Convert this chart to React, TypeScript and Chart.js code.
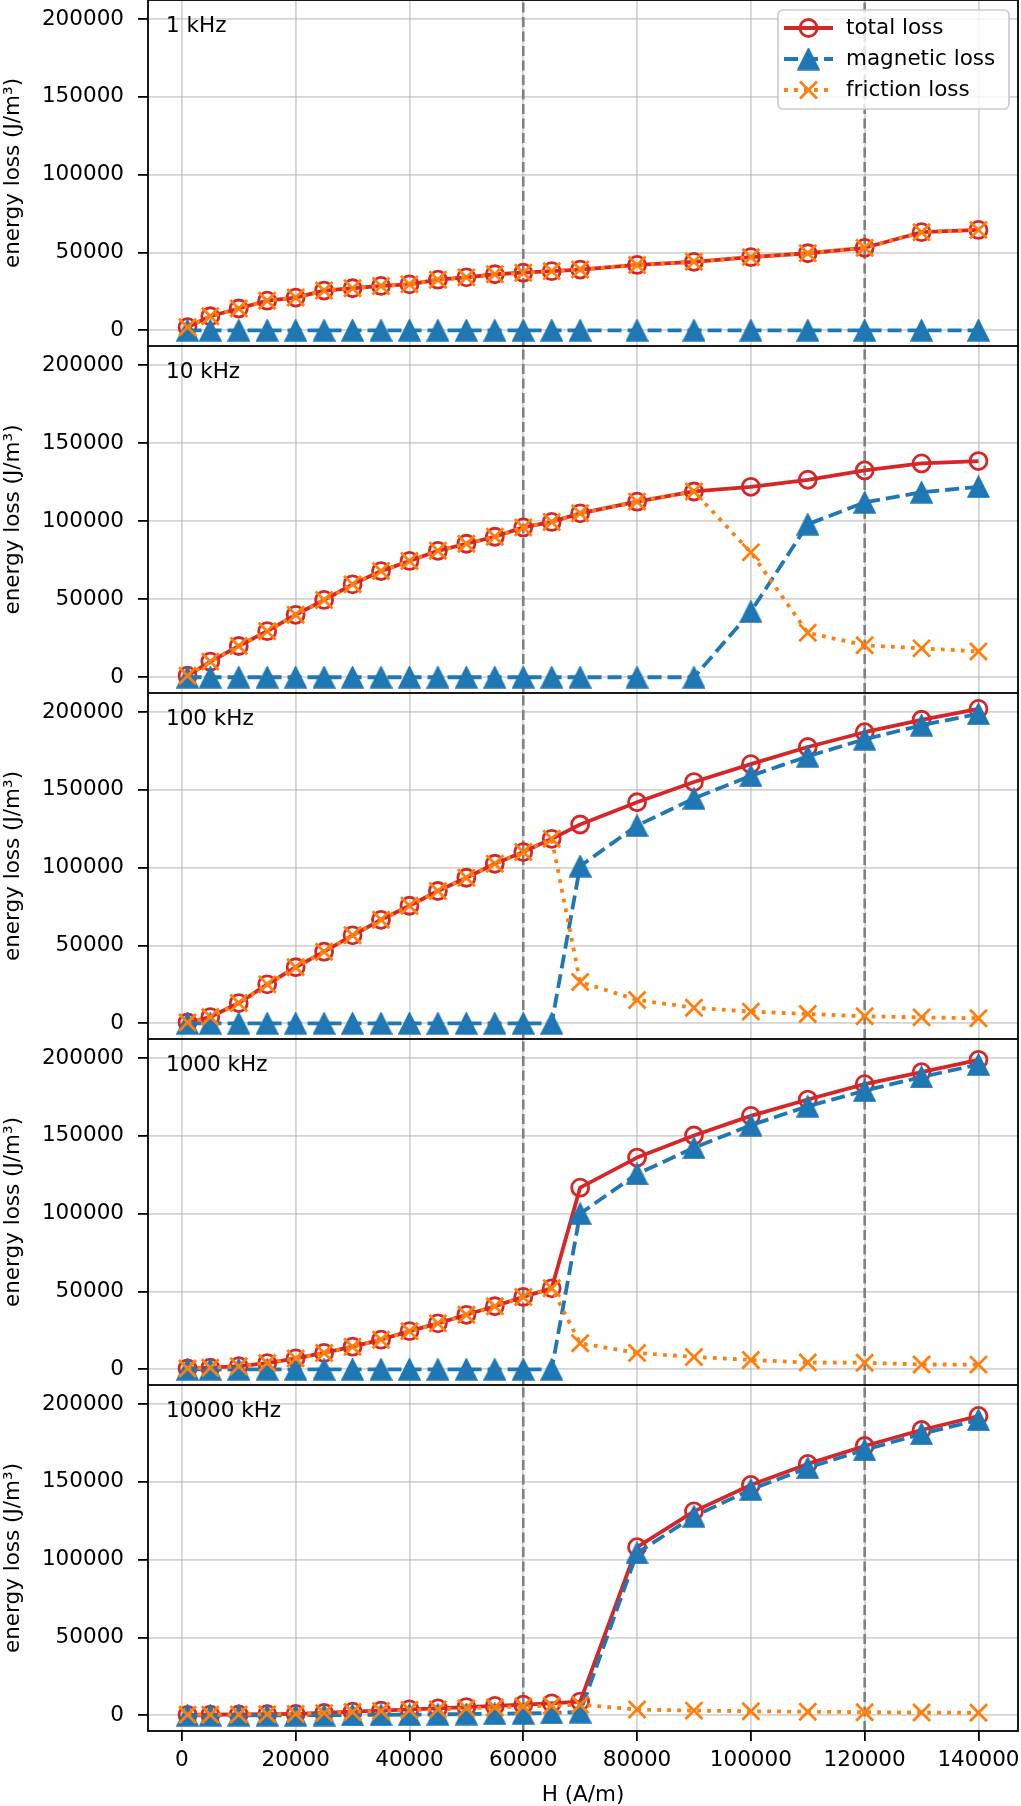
import { useEffect, useRef } from "react";
import { Chart, registerables } from "chart.js";
import { drawPoint } from "chart.js/helpers";

Chart.register(...registerables);

// field strength H (A/m), shared by all panels
const H_FIELD = [
  1000, 5000, 10000, 15000, 20000, 25000, 30000, 35000, 40000, 45000, 50000,
  55000, 60000, 65000, 70000, 80000, 90000, 100000, 110000, 120000, 130000, 140000,
];

const FREQ_LABELS = ["1 kHz", "10 kHz", "100 kHz", "1000 kHz", "10000 kHz"];

// 1 kHz
const TOTAL_1K = [2000, 9000, 14000, 19000, 21000, 25500, 27000, 28500, 29500, 32500, 34000, 36000, 37000, 38000, 39000, 42000, 44000, 47000, 49500, 53000, 63000, 64500];
const MAG_1K = [0, 0, 0, 0, 0, 0, 0, 0, 0, 0, 0, 0, 0, 0, 0, 0, 0, 0, 0, 0, 0, 0];
const FRIC_1K = [2000, 9000, 14000, 19000, 21000, 25500, 27000, 28500, 29500, 32500, 34000, 36000, 37000, 38000, 39000, 42000, 44000, 47000, 49500, 53000, 63000, 64500];

// 10 kHz
const TOTAL_10K = [1000, 10000, 20000, 29500, 40000, 49500, 59500, 68000, 74500, 81000, 85500, 90000, 96000, 99500, 105000, 112500, 119000, 122000, 126500, 132500, 137000, 138500];
const MAG_10K = [0, 0, 0, 0, 0, 0, 0, 0, 0, 0, 0, 0, 0, 0, 0, 0, 0, 42000, 98000, 112000, 118500, 122000];
const FRIC_10K = [1000, 10000, 20000, 29500, 40000, 49500, 59500, 68000, 74500, 81000, 85500, 90000, 96000, 99500, 105000, 112500, 119000, 80000, 28500, 20500, 18500, 16500];

// 100 kHz
const TOTAL_100K = [500, 4000, 13000, 25000, 36000, 46000, 56500, 66500, 75500, 85000, 93500, 102500, 110000, 118500, 127700, 142000, 155000, 166500, 177500, 187000, 195000, 202000];
const MAG_100K = [0, 0, 0, 0, 0, 0, 0, 0, 0, 0, 0, 0, 0, 0, 101000, 127000, 144500, 159000, 171500, 182500, 191500, 198800];
const FRIC_100K = [500, 4000, 13000, 25000, 36000, 46000, 56500, 66500, 75500, 85000, 93500, 102500, 110000, 118500, 26500, 15000, 10000, 7500, 6000, 4500, 3800, 3200];

// 1000 kHz
const TOTAL_1000K = [500, 1000, 2000, 4000, 7000, 10500, 14500, 19000, 24500, 29500, 35000, 40500, 46500, 52000, 116700, 136000, 150200, 162800, 173300, 183200, 190900, 198800];
const MAG_1000K = [0, 0, 0, 0, 0, 0, 0, 0, 0, 0, 0, 0, 0, 0, 100000, 125500, 142300, 156800, 169000, 179000, 187800, 195800];
const FRIC_1000K = [500, 1000, 2000, 4000, 7000, 10500, 14500, 19000, 24500, 29500, 35000, 40500, 46500, 52000, 16700, 10500, 7900, 6000, 4300, 4200, 3100, 3000];

// 10000 kHz
const TOTAL_10000K = [300, 400, 500, 700, 900, 1500, 2300, 3000, 3800, 4400, 5300, 6000, 6800, 7700, 8800, 108000, 131000, 148000, 161500, 173000, 183300, 192300];
const MAG_10000K = [0, 0, 0, 0, 0, 100, 200, 300, 400, 600, 800, 1000, 1200, 1500, 2000, 104300, 127800, 145000, 159000, 170500, 180800, 189800];
const FRIC_10000K = [300, 400, 500, 700, 900, 1400, 2100, 2700, 3400, 3800, 4500, 5000, 5600, 6200, 6800, 3700, 3000, 2600, 2300, 2000, 1800, 1600];

const VLINES_H = [60000, 120000];
const X_TICKS = [0, 20000, 40000, 60000, 80000, 100000, 120000, 140000];
const Y_TICKS = [0, 50000, 100000, 150000, 200000];

const PANELS = [
  { label: FREQ_LABELS[0], total: TOTAL_1K, mag: MAG_1K, fric: FRIC_1K },
  { label: FREQ_LABELS[1], total: TOTAL_10K, mag: MAG_10K, fric: FRIC_10K },
  { label: FREQ_LABELS[2], total: TOTAL_100K, mag: MAG_100K, fric: FRIC_100K },
  { label: FREQ_LABELS[3], total: TOTAL_1000K, mag: MAG_1000K, fric: FRIC_1000K },
  { label: FREQ_LABELS[4], total: TOTAL_10000K, mag: MAG_10000K, fric: FRIC_10000K },
];

const X_MIN = -5950;
const X_MAX = 146950;
const Y_MIN = -10100;
const Y_MAX = 212200;

const PAGE_W = 1021;
const AXIS_LEFT = 148;
const RIGHT_PAD = 3;
const X_AXIS_H = 75;
const PANEL_TOPS = [0, 346, 693, 1039, 1385, 1731];

const FAMILY = "'DejaVu Sans', sans-serif";
const FONT_SIZE = 21.5;
const RED = "#d62728";
const BLUE = "#1f77b4";
const ORANGE = "#ff7f0e";
const GRID = "rgba(176,176,176,0.55)";
const LINE_W = 3.8;

// matplotlib-like "^" marker: as wide as it is tall, centred on its box
function makeTriangle(size: number, color: string) {
  const c = document.createElement("canvas");
  c.width = size;
  c.height = size;
  const g = c.getContext("2d")!;
  g.beginPath();
  g.moveTo(size / 2, 1);
  g.lineTo(size - 1, size - 1);
  g.lineTo(1, size - 1);
  g.closePath();
  g.fillStyle = color;
  g.fill();
  g.lineWidth = 1.5;
  g.lineJoin = "miter";
  g.strokeStyle = color;
  g.stroke();
  return c;
}

const TRIANGLE = makeTriangle(23, BLUE);

const SERIES_STYLE = [
  { label: "total loss", color: RED, dash: [], marker: "circle" as any, radius: 8.5, mbw: 2.8, fill: "rgba(0,0,0,0)" },
  { label: "magnetic loss", color: BLUE, dash: [14, 6], marker: TRIANGLE as any, radius: 11.5, mbw: 1, fill: BLUE },
  { label: "friction loss", color: ORANGE, dash: [3.8, 6.2], marker: "crossRot" as any, radius: 12, mbw: 2.8, fill: ORANGE },
];

const framePlugin = {
  id: "frame",
  afterDatasetsDraw(chart: any, _args: any, opts: any) {
    const { ctx, chartArea: a } = chart;
    ctx.save();
    ctx.strokeStyle = "#000";
    ctx.lineWidth = 1.8;
    ctx.setLineDash([]);
    ctx.strokeRect(a.left, a.top, a.right - a.left, a.bottom - a.top);
    ctx.fillStyle = "#000";
    ctx.font = `${FONT_SIZE}px ${FAMILY}`;
    ctx.textBaseline = "middle";
    ctx.textAlign = "left";
    ctx.fillText(opts.label, a.left + 18, a.top + 26);
    ctx.restore();
  },
};

const legendPlugin = {
  id: "mplLegend",
  afterDraw(chart: any) {
    const { ctx, chartArea } = chart;
    const w = 231;
    const h = 99;
    const x0 = chartArea.right - 9 - w;
    const y0 = chartArea.top + 10;
    ctx.save();
    ctx.beginPath();
    ctx.roundRect(x0, y0, w, h, 5);
    ctx.fillStyle = "rgba(255,255,255,0.8)";
    ctx.fill();
    ctx.lineWidth = 1.7;
    ctx.strokeStyle = "#cccccc";
    ctx.stroke();
    SERIES_STYLE.forEach((s, i) => {
      const cy = y0 + 18 + i * 31;
      ctx.setLineDash(s.dash);
      ctx.lineWidth = LINE_W;
      ctx.strokeStyle = s.color;
      ctx.beginPath();
      ctx.moveTo(x0 + 6, cy);
      ctx.lineTo(x0 + 55, cy);
      ctx.stroke();
      ctx.setLineDash([]);
      ctx.fillStyle = s.fill;
      ctx.lineWidth = s.mbw;
      drawPoint(ctx, { pointStyle: s.marker, radius: s.radius, rotation: 0, borderWidth: s.mbw }, x0 + 30.5, cy);
      ctx.fillStyle = "#000";
      ctx.font = `${FONT_SIZE}px ${FAMILY}`;
      ctx.textBaseline = "middle";
      ctx.textAlign = "left";
      ctx.fillText(s.label, x0 + 68, cy);
    });
    ctx.restore();
  },
};

const toPoints = (ys: number[]) => H_FIELD.map((x, i) => ({ x, y: ys[i] }));

function Panel({ index }: { index: number }) {
  const ref = useRef<HTMLCanvasElement>(null);
  const panel = PANELS[index];
  const isLast = index === PANELS.length - 1;
  const top = PANEL_TOPS[index];
  const height = PANEL_TOPS[index + 1] - top + (isLast ? X_AXIS_H : 0);

  useEffect(() => {
    if (!ref.current) return;
    const series = [panel.total, panel.mag, panel.fric].map((ys, i) => {
      const s = SERIES_STYLE[i];
      return {
        label: s.label,
        data: toPoints(ys),
        borderColor: s.color,
        borderWidth: LINE_W,
        borderDash: s.dash,
        borderJoinStyle: "round",
        pointStyle: s.marker,
        pointRadius: s.radius,
        pointBorderWidth: s.mbw,
        pointBorderColor: s.color,
        pointBackgroundColor: s.fill,
        tension: 0,
        order: 3 - i,
      };
    });
    const vlines = VLINES_H.map((h) => ({
      label: "",
      data: [
        { x: h, y: Y_MIN },
        { x: h, y: Y_MAX },
      ],
      borderColor: "#808080",
      borderWidth: 2.6,
      borderDash: [10, 4.5],
      pointRadius: 0,
      order: 5,
    }));

    const chart = new Chart(ref.current, {
      type: "line",
      data: { datasets: [...series, ...vlines] as any },
      plugins: index === 0 ? [framePlugin, legendPlugin] : [framePlugin],
      options: {
        responsive: false,
        animation: false,
        events: [],
        layout: { autoPadding: false, padding: { left: 0, right: RIGHT_PAD, top: 0, bottom: 0 } },
        plugins: {
          legend: { display: false },
          title: { display: false },
          tooltip: { enabled: false },
          frame: { label: panel.label },
        } as any,
        scales: {
          x: {
            type: "linear",
            min: X_MIN,
            max: X_MAX,
            border: { display: false },
            grid: {
              color: GRID,
              lineWidth: 1.8,
              drawTicks: isLast,
              tickLength: 10,
              tickColor: "#000",
              tickWidth: 1.8,
            },
            ticks: {
              display: isLast,
              autoSkip: false,
              maxRotation: 0,
              padding: 7,
              color: "#000",
              font: { family: FAMILY, size: FONT_SIZE },
              callback: (v: any) => String(v),
            },
            afterBuildTicks: (s: any) => {
              s.ticks = X_TICKS.map((value) => ({ value }));
            },
            title: {
              display: isLast,
              text: "H (A/m)",
              color: "#000",
              font: { family: FAMILY, size: FONT_SIZE, lineHeight: 1 },
              padding: { top: 0, bottom: 0 },
            },
            afterFit: (s: any) => {
              s.height = isLast ? X_AXIS_H : 0;
              s.paddingLeft = 0;
              s.paddingRight = 0;
            },
          },
          y: {
            type: "linear",
            min: Y_MIN,
            max: Y_MAX,
            border: { display: false },
            grid: {
              color: GRID,
              lineWidth: 1.8,
              drawTicks: true,
              tickLength: 10,
              tickColor: "#000",
              tickWidth: 1.8,
            },
            ticks: {
              autoSkip: false,
              padding: 14,
              color: "#000",
              font: { family: FAMILY, size: FONT_SIZE },
              callback: (v: any) => String(v),
            },
            afterBuildTicks: (s: any) => {
              s.ticks = Y_TICKS.map((value) => ({ value }));
            },
            title: {
              display: true,
              text: "energy loss (J/m³)",
              color: "#000",
              font: { family: FAMILY, size: FONT_SIZE, lineHeight: 1 },
              padding: { top: 3, bottom: 0 },
            },
            afterFit: (s: any) => {
              s.width = AXIS_LEFT;
              s.paddingTop = 0;
              s.paddingBottom = 0;
            },
          },
        },
      } as any,
    });
    return () => chart.destroy();
  }, [index]);

  return (
    <canvas
      ref={ref}
      width={PAGE_W}
      height={height}
      style={{ position: "absolute", left: 0, top, width: PAGE_W, height }}
    />
  );
}

export default function App() {
  return (
    <div
      style={{
        position: "absolute",
        left: 0,
        top: 0,
        width: PAGE_W,
        height: 1806,
        background: "#fff",
        overflow: "hidden",
      }}
    >
      {PANELS.map((_, i) => (
        <Panel key={i} index={i} />
      ))}
    </div>
  );
}
